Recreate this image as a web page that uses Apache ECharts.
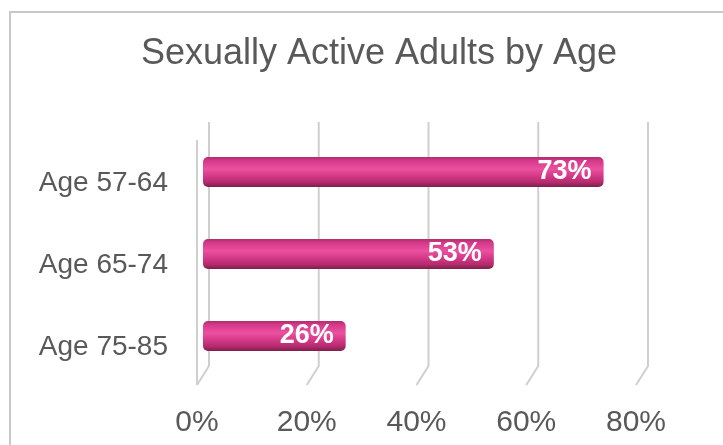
<!DOCTYPE html>
<html>
<head>
<meta charset="utf-8">
<script src="https://cdn.jsdelivr.net/npm/echarts@6/dist/echarts.min.js"></script>
<style>
    html, body { margin: 0; padding: 0; background: #fff; }
    #graph { width: 723px; height: 445px; }
</style>
</head>
<body>
<div id="graph"></div>
<script>
var titleText = 'Sexually Active Adults by Age';
var ageGroups = ['Age 57-64', 'Age 65-74', 'Age 75-85'];
var activePct = [73, 53, 26];
var tickValues = [0, 20, 40, 60, 80];

draw();

function draw(){
    var dom = document.getElementById("graph");
    var myChart = echarts.init(dom);
    var textColor = '#595959';
    var gridColor = '#cfcfcf';

    // 3d-ish gridlines: back wall line, then a short slant to the floor front
    function renderGrid(params, api) {
        var cs = params.coordSys;
        var x = api.coord([api.value(0), 0])[0];
        var bottom = cs.y + cs.height;
        var children = [{
            type: 'polyline',
            shape: { points: [[x + 6, cs.y - 9], [x + 6, bottom - 11], [x - 6, bottom + 8]] },
            style: { stroke: gridColor, lineWidth: 2, fill: null }
        }];
        if (api.value(0) === 0) {
            children.push({
                type: 'line',
                shape: { x1: x - 6, y1: cs.y + 9, x2: x - 6, y2: bottom + 8 },
                style: { stroke: gridColor, lineWidth: 2 }
            });
        }
        return { type: 'group', children: children };
    }

    var option = {
        animation: false,
        title: {
            text: titleText,
            left: 374,
            top: 31,
            textAlign: 'center',
            textStyle: {
                fontFamily: 'Liberation Sans',
                fontWeight: 'normal',
                fontSize: 36,
                color: textColor
            }
        },
        graphic: [{
            type: 'rect',
            z: -10,
            shape: { x: 10, y: 12, width: 760, height: 500 },
            style: { fill: null, stroke: '#c8c8c8', lineWidth: 2 }
        }],
        grid: {
            left: 203,
            right: 81,
            top: 131,
            bottom: 68
        },
        xAxis: {
            type: 'value',
            min: 0,
            max: 80,
            interval: 20,
            axisLine: { show: false },
            axisTick: { show: false },
            splitLine: { show: false },
            axisLabel: {
                formatter: '{value}%',
                fontFamily: 'Liberation Sans',
                fontSize: 30,
                color: textColor,
                margin: 31,
                padding: [0, 12, 0, 0]
            }
        },
        yAxis: {
            type: 'category',
            inverse: true,
            data: ageGroups,
            axisLine: { show: false },
            axisTick: { show: false },
            axisLabel: {
                fontFamily: 'Liberation Sans',
                fontSize: 28,
                color: textColor,
                margin: 35,
                verticalAlign: 'top',
                lineHeight: 22
            }
        },
        series: [
            {
                type: 'custom',
                renderItem: renderGrid,
                silent: true,
                z: 1,
                data: tickValues.map(function (v) { return [v, 0]; })
            },
            {
                type: 'bar',
                data: activePct,
                barWidth: 30,
                z: 3,
                itemStyle: {
                    borderRadius: 5,
                    color: new echarts.graphic.LinearGradient(0, 0, 0, 1, [
                        { offset: 0, color: '#b02d6a' },
                        { offset: 0.12, color: '#d5388a' },
                        { offset: 0.4, color: '#ea519e' },
                        { offset: 0.62, color: '#d63a88' },
                        { offset: 0.85, color: '#b32a6d' },
                        { offset: 1, color: '#7c1f4b' }
                    ])
                },
                label: {
                    show: true,
                    position: 'insideRight',
                    distance: 12,
                    formatter: '{c}%',
                    color: '#fff',
                    fontFamily: 'Liberation Sans',
                    fontWeight: 'bold',
                    fontSize: 27
                }
            }
        ]
    };
    myChart.setOption(option, true);
}
</script>
</body>
</html>
